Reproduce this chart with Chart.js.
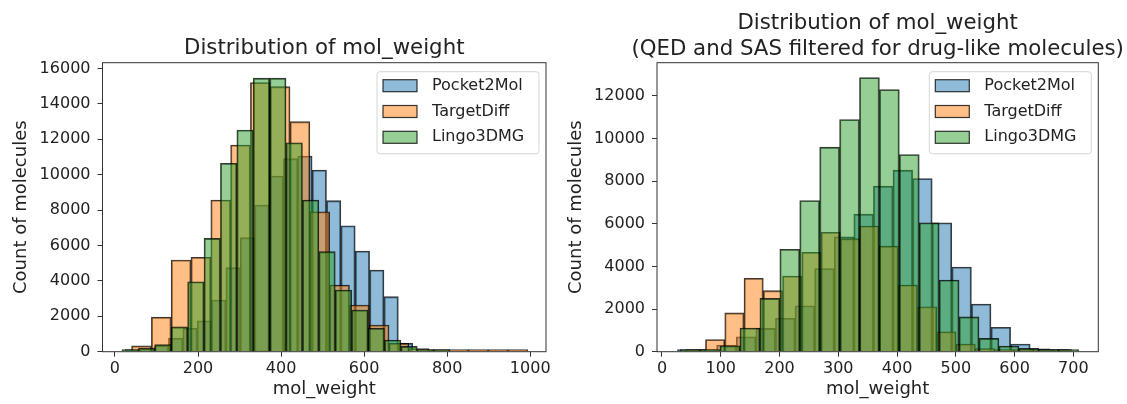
<!DOCTYPE html>
<html>
<head>
<meta charset="utf-8">
<script src="https://cdn.jsdelivr.net/npm/chart.js@4"></script>
<style>
  body { margin: 0; background: #fff; }
  #wrap { position: relative; width: 1127px; height: 404px; }
  canvas { position: absolute; top: 0; }
  #left { left: 0; }
  #right { left: 563px; }
</style>
</head>
<body>
<div id="wrap">
  <canvas id="left" width="560" height="404"></canvas>
  <canvas id="right" width="564" height="404"></canvas>
</div>
<script>
const seriesNames = ['Pocket2Mol', 'TargetDiff', 'Lingo3DMG'];

// All molecules: first bin edge and bin width per series, then counts per bin
const allBinStart = [25, 40, 17];
const allBinWidth = [34.6, 47.7, 39.5];
const allPocket2Mol = [60, 150, 350, 755, 1320, 1750, 2920, 4745, 6440, 8283, 9920, 10900, 11050, 10260, 8530, 7115, 5686, 4613, 3106, 480];
const allTargetDiff = [330, 1950, 5180, 5330, 8565, 11670, 15200, 14965, 12990, 7905, 3766, 2637, 1508, 474, 180, 100, 25, 10, 5, 5];
const allLingo3DMG = [80, 200, 400, 1400, 3950, 6400, 10640, 12520, 15450, 15450, 11800, 8565, 5650, 3485, 2356, 1320, 660, 300, 100, 30];
const allXTicks = [0, 200, 400, 600, 800, 1000];
const allYTicks = [0, 2000, 4000, 6000, 8000, 10000, 12000, 14000, 16000];

// QED and SAS filtered
const drugBinStart = [26.3, 41.2, 31];
const drugBinWidth = [33.35, 32.8, 33.9];
const drugPocket2Mol = [20, 60, 312, 703, 1093, 1565, 2150, 3900, 5389, 6451, 7763, 8513, 8122, 6045, 3970, 2236, 1143, 361, 140, 40];
const drugTargetDiff = [50, 570, 1820, 3440, 2860, 3548, 4660, 5600, 5300, 5890, 4950, 3124, 2109, 937, 361, 150, 60, 30, 10, 5];
const drugLingo3DMG = [30, 100, 280, 1110, 2500, 4800, 7090, 9590, 10887, 12855, 12293, 9247, 6045, 3360, 1630, 625, 265, 156, 50, 15];
const drugXTicks = [0, 100, 200, 300, 400, 500, 600, 700];
const drugYTicks = [0, 2000, 4000, 6000, 8000, 10000, 12000];

const colors = ['rgba(31,119,180,0.5)', 'rgba(255,127,14,0.5)', 'rgba(44,160,44,0.5)'];
const edge = 'rgba(0,0,0,0.78)';
const font = 'DejaVu Sans';
const ink = '#222';

// spines on all four sides, drawn over the bars
const framePlugin = {
  id: 'frame',
  afterDatasetsDraw(chart) {
    const { ctx, chartArea: a } = chart;
    ctx.save();
    ctx.strokeStyle = '#333';
    ctx.lineWidth = 1;
    ctx.strokeRect(a.left, a.top, a.right - a.left, a.bottom - a.top);
    ctx.restore();
  }
};

// title centred over the axes (not the whole canvas) + legend box in the corner
const decorPlugin = {
  id: 'decor',
  afterDraw(chart, args, opts) {
    const { ctx, chartArea: a } = chart;
    ctx.save();
    ctx.fillStyle = ink;
    ctx.font = '21.3px "' + font + '"';
    ctx.textAlign = 'center';
    ctx.textBaseline = 'middle';
    opts.title.forEach((line, i) => ctx.fillText(line, (a.left + a.right) / 2, opts.titleY[i]));

    const w = 162, h = 82;
    const x = a.right - 7 - w, y = a.top + 9;
    ctx.beginPath();
    ctx.roundRect(x, y, w, h, 3);
    ctx.fillStyle = 'rgba(255,255,255,0.8)';
    ctx.fill();
    ctx.strokeStyle = '#d6d6d6';
    ctx.lineWidth = 1;
    ctx.stroke();
    ctx.font = '16px "' + font + '"';
    ctx.textAlign = 'left';
    seriesNames.forEach((name, i) => {
      const cy = y + 14 + i * 25.8;
      ctx.fillStyle = colors[i];
      ctx.fillRect(x + 6, cy - 6, 34, 12);
      ctx.strokeStyle = edge;
      ctx.lineWidth = 1.2;
      ctx.strokeRect(x + 6, cy - 6, 34, 12);
      ctx.fillStyle = ink;
      ctx.fillText(name, x + 55, cy);
    });
    ctx.restore();
  }
};

function drawHist(id, cfg) {
  // each series gets its own hidden x axis so bars take the width of its own bins
  const datasets = cfg.counts.map((c, s) => ({
    label: seriesNames[s],
    data: c.map((v, i) => ({ x: cfg.binStart[s] + cfg.binWidth[s] * (i + 0.5), y: v })),
    xAxisID: 'x' + s,
    backgroundColor: colors[s],
    borderColor: edge,
    borderWidth: 1.2,
    barPercentage: 1,
    categoryPercentage: 1,
    grouped: false,
    minBarLength: 2,
    order: 3 - s
  }));

  const scales = {
    x: {
      type: 'linear',
      min: cfg.xRange[0],
      max: cfg.xRange[1],
      offset: false,
      afterBuildTicks: sc => { sc.ticks = cfg.xTicks.map(v => ({ value: v })); },
      afterFit: sc => { sc.height = 52.3; },
      grid: { drawOnChartArea: false, offset: false, tickLength: 5, color: '#333' },
      border: { display: false },
      ticks: { color: ink, font: { family: font, size: 16 }, padding: 3, maxRotation: 0, autoSkip: false, callback: v => v },
      title: { display: true, text: 'mol_weight', color: ink, font: { family: font, size: 18 }, padding: { top: 0, bottom: 4 } }
    },
    y: {
      min: 0,
      max: cfg.yMax,
      afterBuildTicks: sc => { sc.ticks = cfg.yTicks.map(v => ({ value: v })); },
      afterFit: sc => { sc.width = cfg.yWidth; },
      grid: { drawOnChartArea: false, tickLength: 5, color: '#333' },
      border: { display: false },
      ticks: { color: ink, font: { family: font, size: 16 }, padding: 7, callback: v => v },
      title: { display: true, text: 'Count of molecules', color: ink, font: { family: font, size: 18 }, padding: { top: cfg.yTitlePad, bottom: 0 } }
    }
  };
  cfg.counts.forEach((c, s) => {
    scales['x' + s] = {
      type: 'linear', display: false, offset: false,
      min: cfg.xRange[0], max: cfg.xRange[1]
    };
  });

  new Chart(document.getElementById(id), {
    type: 'bar',
    data: { datasets },
    options: {
      responsive: false,
      animation: false,
      layout: { padding: { left: 0, right: cfg.rightPad, top: 62.7, bottom: 0 } },
      scales,
      plugins: {
        legend: { display: false },
        tooltip: { enabled: false },
        decor: { title: cfg.title, titleY: cfg.titleY }
      }
    },
    plugins: [framePlugin, decorPlugin]
  });
}

drawHist('left', {
  title: ['Distribution of mol_weight'],
  titleY: [48],
  binStart: allBinStart,
  binWidth: allBinWidth,
  counts: [allPocket2Mol, allTargetDiff, allLingo3DMG],
  xTicks: allXTicks,
  yTicks: allYTicks,
  xRange: [-30, 1038],
  yMax: 16320,
  yWidth: 102.5,
  yTitlePad: 10.9,
  rightPad: 14
});

drawHist('right', {
  title: ['Distribution of mol_weight', '(QED and SAS filtered for drug-like molecules)'],
  titleY: [23.5, 49.5],
  binStart: drugBinStart,
  binWidth: drugBinWidth,
  counts: [drugPocket2Mol, drugTargetDiff, drugLingo3DMG],
  xTicks: drugXTicks,
  yTicks: drugYTicks,
  xRange: [-8.5, 742.5],
  yMax: 13550,
  yWidth: 94,
  yTitlePad: 2.2,
  rightPad: 28.7
});
</script>
</body>
</html>
